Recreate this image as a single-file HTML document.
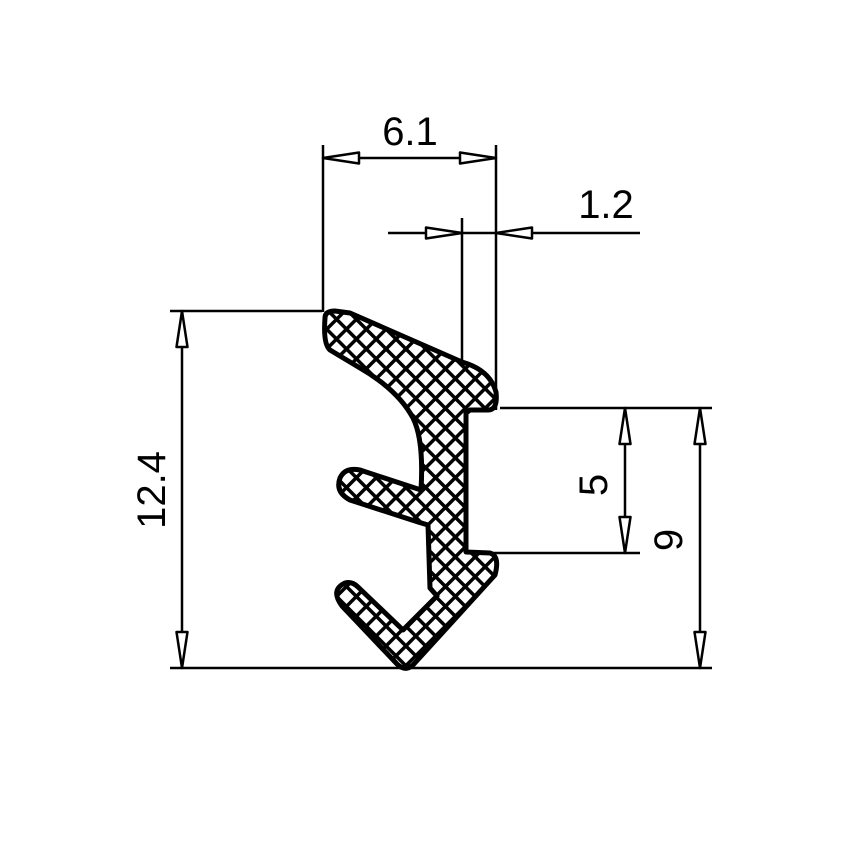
<!DOCTYPE html>
<html><head><style>body{margin:0;background:#fff}svg{display:block}</style></head><body>
<svg width="850" height="850" viewBox="0 0 850 850" xmlns="http://www.w3.org/2000/svg">
<defs>
<pattern id="h" width="14" height="14" patternUnits="userSpaceOnUse" patternTransform="rotate(45)">
<rect width="14" height="14" fill="#fff"/>
<rect x="0" y="0" width="14" height="3.5" fill="#000"/>
<rect x="0" y="0" width="3.5" height="14" fill="#000"/>
</pattern>
<g id="ar"><path d="M0,0 L-36,-5.5 L-36,5.5 Z" fill="#fff" stroke="#000" stroke-width="2.5" stroke-linejoin="round"/></g>
</defs>
<g stroke="#000" stroke-width="2.5" fill="none">
<line x1="323" y1="145" x2="323" y2="312"/>
<line x1="496" y1="145" x2="496" y2="410"/>
<line x1="462" y1="218" x2="462" y2="400"/>
<line x1="323" y1="158" x2="496" y2="158"/>
<line x1="388" y1="233" x2="640" y2="233"/>
<line x1="170" y1="311" x2="322" y2="311"/>
<line x1="170" y1="668" x2="712" y2="668"/>
<line x1="182" y1="311" x2="182" y2="668"/>
<line x1="500" y1="408" x2="712" y2="408"/>
<line x1="467" y1="553" x2="640" y2="553"/>
<line x1="625" y1="408" x2="625" y2="553"/>
<line x1="700" y1="408" x2="700" y2="668"/>
</g>
<use href="#ar" transform="translate(323,158) rotate(180)"/>
<use href="#ar" transform="translate(496,158)"/>
<use href="#ar" transform="translate(462,233)"/>
<use href="#ar" transform="translate(496,233) rotate(180)"/>
<use href="#ar" transform="translate(182,311) rotate(-90)"/>
<use href="#ar" transform="translate(182,668) rotate(90)"/>
<use href="#ar" transform="translate(625,408) rotate(-90)"/>
<use href="#ar" transform="translate(625,553) rotate(90)"/>
<use href="#ar" transform="translate(700,408) rotate(-90)"/>
<use href="#ar" transform="translate(700,668) rotate(90)"/>
<path d="M325,318 Q325,311 335,311 L350,313 L462,362 Q490,370 496,392 Q498,410 488,410 L470,410 L466,413 L466,552 L490,553 Q500,556 495,575 L413,665 Q405,672 397,664 L342,606 Q330,590 345,583 Q352,581 358,587 L403,630 L437,596 L430,588 L428,525 L418,522 L350,500 Q335,492 340,478 Q345,467 360,470 L421,490 Q424,440 413,418 Q398,390 360,368 L330,350 Q323,344 325,318 Z" fill="url(#h)" stroke="#000" stroke-width="5" stroke-linejoin="round"/>
<g font-family="Liberation Sans, sans-serif" font-size="40" fill="#000">
<text x="410" y="145" text-anchor="middle">6.1</text>
<text x="606" y="218" text-anchor="middle">1.2</text>
<text transform="translate(165,490) rotate(-90)" text-anchor="middle">12.4</text>
<text transform="translate(607,485) rotate(-90)" text-anchor="middle">5</text>
<text transform="translate(682,540) rotate(-90)" text-anchor="middle">9</text>
</g>
</svg>
</body></html>
